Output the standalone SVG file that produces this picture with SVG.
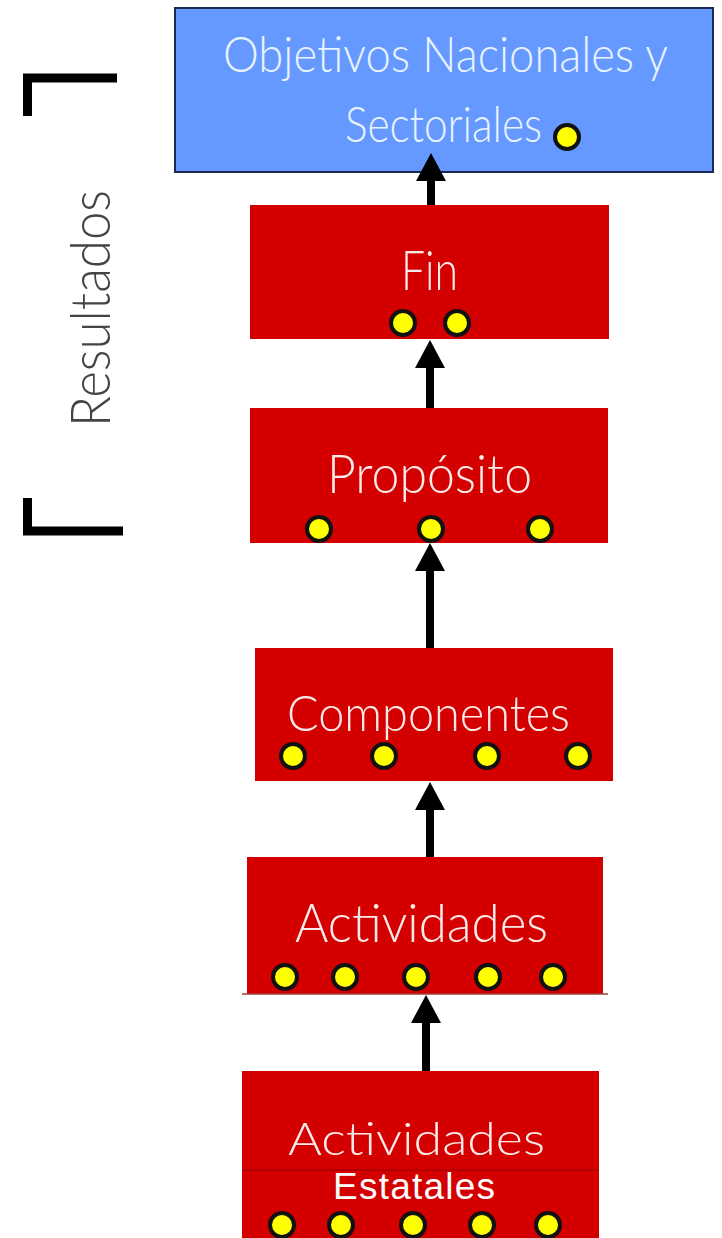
<svg xmlns="http://www.w3.org/2000/svg" width="722" height="1238" viewBox="0 0 722 1238">
<style>
.box{fill:#D40000;}
.blue{fill:#6699FF;stroke:#1b2a55;stroke-width:2;}
.lbl{font-family:Lato,"Liberation Sans","DejaVu Sans",sans-serif;font-weight:300;fill:#FBEAEA;}
.lblb{font-family:Lato,"Liberation Sans","DejaVu Sans",sans-serif;font-weight:300;fill:#E8F3FF;}
.dot{fill:#FFFF00;stroke:#111;stroke-width:4;}
.conn{stroke:#000;stroke-width:8;fill:none;marker-end:url(#ah);}
.brk{stroke:#000;stroke-width:9;fill:none;stroke-linejoin:miter;}
</style>
<defs>
<marker id="ah" markerUnits="userSpaceOnUse" markerWidth="28" markerHeight="30" viewBox="0 0 28 30" refX="8" refY="15" orient="auto">
<path d="M0,0 L28,15 L0,30 Z" fill="#000"/>
</marker>
</defs>
<rect width="722" height="1238" fill="#fff"/>

<g id="brackets">
<path class="brk" d="M27.5,116 V78 H117"/>
<path class="brk" d="M27.5,498 V531 H123"/>
<text transform="translate(110,427) rotate(-90)" font-family="Lato,'Liberation Sans',sans-serif" font-weight="300" font-size="56" fill="#444" textLength="237" lengthAdjust="spacingAndGlyphs">Resultados</text>
</g>

<g id="node-objetivos">
<rect class="blue" x="175" y="8" width="538" height="164"/>
<text class="lblb" x="223" y="72" font-size="50" textLength="445" lengthAdjust="spacingAndGlyphs">Objetivos Nacionales y</text>
<text class="lblb" x="345" y="142" font-size="50" textLength="197" lengthAdjust="spacingAndGlyphs">Sectoriales</text>
<circle class="dot" cx="567" cy="137" r="12"/>
</g>

<g id="node-fin">
<rect class="box" x="250" y="205" width="359" height="134"/>
<text class="lbl" x="401" y="290" font-size="56" textLength="57" lengthAdjust="spacingAndGlyphs">Fin</text>
<circle class="dot" cx="403" cy="323" r="12"/>
<circle class="dot" cx="457" cy="323" r="12"/>
</g>

<g id="node-proposito">
<rect class="box" x="250" y="408" width="358" height="135"/>
<text class="lbl" x="327" y="493" font-size="54" textLength="205" lengthAdjust="spacingAndGlyphs">Propósito</text>
<circle class="dot" cx="319" cy="529" r="12"/>
<circle class="dot" cx="431" cy="529" r="12"/>
<circle class="dot" cx="540" cy="529" r="12"/>
</g>

<g id="node-componentes">
<rect class="box" x="255" y="648" width="358" height="133"/>
<text class="lbl" x="287" y="731" font-size="50" textLength="283" lengthAdjust="spacingAndGlyphs">Componentes</text>
<circle class="dot" cx="293" cy="756" r="12"/>
<circle class="dot" cx="384" cy="756" r="12"/>
<circle class="dot" cx="487" cy="756" r="12"/>
<circle class="dot" cx="578" cy="756" r="12"/>
</g>

<g id="node-actividades">
<rect class="box" x="247" y="857" width="356" height="137"/>
<line x1="242" y1="994" x2="608" y2="994" stroke="#9a4040" stroke-width="1.5"/>
<text class="lbl" x="295" y="942" font-size="54" textLength="253" lengthAdjust="spacingAndGlyphs">Actividades</text>
<circle class="dot" cx="285" cy="977" r="12"/>
<circle class="dot" cx="345" cy="977" r="12"/>
<circle class="dot" cx="416" cy="977" r="12"/>
<circle class="dot" cx="488" cy="977" r="12"/>
<circle class="dot" cx="553" cy="977" r="12"/>
</g>

<g id="node-actividades-estatales">
<rect class="box" x="242" y="1071" width="357" height="167"/>
<line x1="242" y1="1170" x2="599" y2="1170" stroke="#A80000" stroke-width="1.5"/>
<text class="lbl" x="288" y="1155" font-size="46" textLength="257" lengthAdjust="spacingAndGlyphs">Actividades</text>
<text x="333" y="1199" font-family="'Liberation Sans',Arial,sans-serif" font-size="37" fill="#fff" textLength="162" lengthAdjust="spacing">Estatales</text>
<circle class="dot" cx="282" cy="1225" r="12"/>
<circle class="dot" cx="341" cy="1225" r="12"/>
<circle class="dot" cx="413" cy="1225" r="12"/>
<circle class="dot" cx="482" cy="1225" r="12"/>
<circle class="dot" cx="548" cy="1225" r="12"/>
</g>

<g id="connectors">
<line class="conn" x1="431" y1="205" x2="431" y2="173"/>
<line class="conn" x1="430" y1="408" x2="430" y2="360"/>
<line class="conn" x1="430" y1="648" x2="430" y2="563"/>
<line class="conn" x1="430" y1="857" x2="430" y2="802"/>
<line class="conn" x1="426" y1="1071" x2="426" y2="1015"/>
</g>
</svg>
